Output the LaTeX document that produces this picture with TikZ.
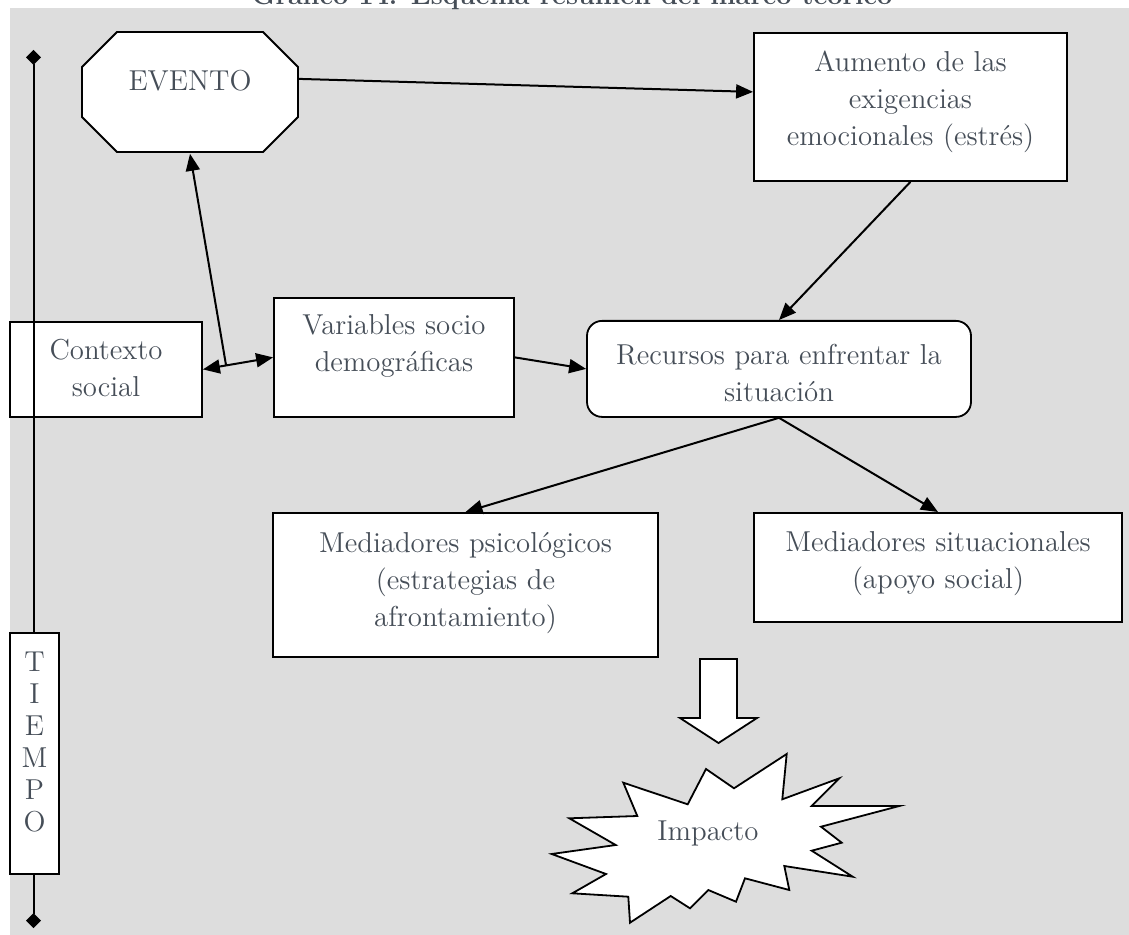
\documentclass[tikz,border=0pt]{standalone}
\usepackage{fontspec}
\usepackage{xcolor}
\usetikzlibrary{arrows.meta}

\definecolor{bggray}{RGB}{221,221,221}
\definecolor{inkgray}{RGB}{70,78,88}

\begin{document}
\begin{tikzpicture}[x=0.5pt,y=-0.5pt]
    \tikzstyle{block} = [rectangle, draw, line width=0.9pt, fill=white, anchor=north,
               inner sep=0pt, align=center, text=inkgray,
               font=\fontsize{14.4}{18.5}\selectfont]
    \tikzstyle{line} = [draw, line width=1pt, -{Triangle[length=8.5pt,width=7pt]}]
    \tikzstyle{shapeline} = [draw, line width=0.9pt, fill=white, line join=miter]

    \useasboundingbox (0,0) rectangle (1129,935);
    \fill[bggray] (10,8) rectangle (1129,935);

    % title, cut off by the page
    \node[anchor=base, text=inkgray, font=\fontsize{13.5}{16}\selectfont\bfseries]
      (titulo) at (572,5) {Gráfico 14. Esquema resumen del marco teórico};

    % event octagon
    \path[shapeline] (117,32) -- (263,32) -- (298,67) -- (298,117) -- (263,152)
      -- (117,152) -- (82,117) -- (82,67) -- cycle;
    \node[block, draw=none, fill=none, text width=108pt, text height=29pt, text depth=31pt]
      (evento) at (190,32) {EVENTO};

    \node[block, text width=156.5pt, text height=19.5pt, text depth=54.5pt]
      (aumento) at (910.5,32) {Aumento de las\\ exigencias\\ emocionales (estrés)};

    \node[block, text width=96pt, text height=19pt, text depth=28.5pt]
      (contexto) at (106,321) {Contexto\\ social};

    % time line
    \coordinate (tarriba) at (33.5,50);
    \coordinate (tabajo) at (33.5,928);
    \draw[line width=1pt, {Diamond[length=7.5pt,width=7.5pt]}-{Diamond[length=7.5pt,width=7.5pt]}]
      (tarriba) -- (tabajo);
    \node[block, text width=24.5pt, text height=19.5pt, text depth=101pt,
      font=\fontsize{14.4}{16}\selectfont]
      (tiempo) at (34.5,632) {T\\ I\\ E\\ M\\ P\\ O};

    \node[block, text width=120pt, text height=18.5pt, text depth=41pt]
      (variables) at (394,297) {Variables socio\\ demográficas};

    \node[block, rounded corners=7.5pt, text width=192pt, text height=22pt, text depth=26pt]
      (recursos) at (779,320) {Recursos para enfrentar la\\ situación};

    \node[block, text width=192.5pt, text height=20pt, text depth=52pt]
      (psico) at (465.5,512) {Mediadores psicológicos\\ (estrategias de\\ afrontamiento)};

    \node[block, text width=184pt, text height=19.5pt, text depth=35pt]
      (situac) at (938,512) {Mediadores situacionales\\ (apoyo social)};

    % hollow arrow and burst
    \path[shapeline] (700,659) -- (737,659) -- (737,718) -- (757,718) -- (718.5,743)
      -- (680,718) -- (700,718) -- cycle;
    \path[shapeline] (623.3,782.7) -- (687.7,804.3) -- (706,769) -- (734,788.3)
      -- (786.7,754) -- (782.3,799.3) -- (839.3,778.3) -- (811.7,806) -- (899.3,806)
      -- (821,826.7) -- (841.7,842.7) -- (811.7,850.7) -- (852.7,876.7) -- (784.3,866)
      -- (789.3,890) -- (745,878.3) -- (736,901.7) -- (708.3,890) -- (690,908.3)
      -- (670.7,896) -- (630,922.7) -- (628.3,896.7) -- (572.3,893.3) -- (606,874)
      -- (551.7,854) -- (615.7,845) -- (569.3,818.3) -- (637.3,816) -- cycle;
    \node[text=inkgray, font=\fontsize{14.4}{18.5}\selectfont] (impacto) at (708,833) {Impacto};

    % connectors
    \path[line] ([yshift=7pt]evento.east) -- ([yshift=7.5pt]aumento.west);
    \path[line] (aumento.south) -- (recursos.north);
    \path[line, {Triangle[length=8.5pt,width=7pt]}-{Triangle[length=8.5pt,width=7pt]}]
      (contexto.east) -- (variables.west) coordinate[pos=0.33] (cruce);
    \path[line] (cruce) -- (evento.south);
    \path[line] (variables.east) -- (recursos.west);
    \path[line] (recursos.south) -- (psico.north);
    \path[line] (recursos.south) -- (situac.north);
\end{tikzpicture}
\end{document}
